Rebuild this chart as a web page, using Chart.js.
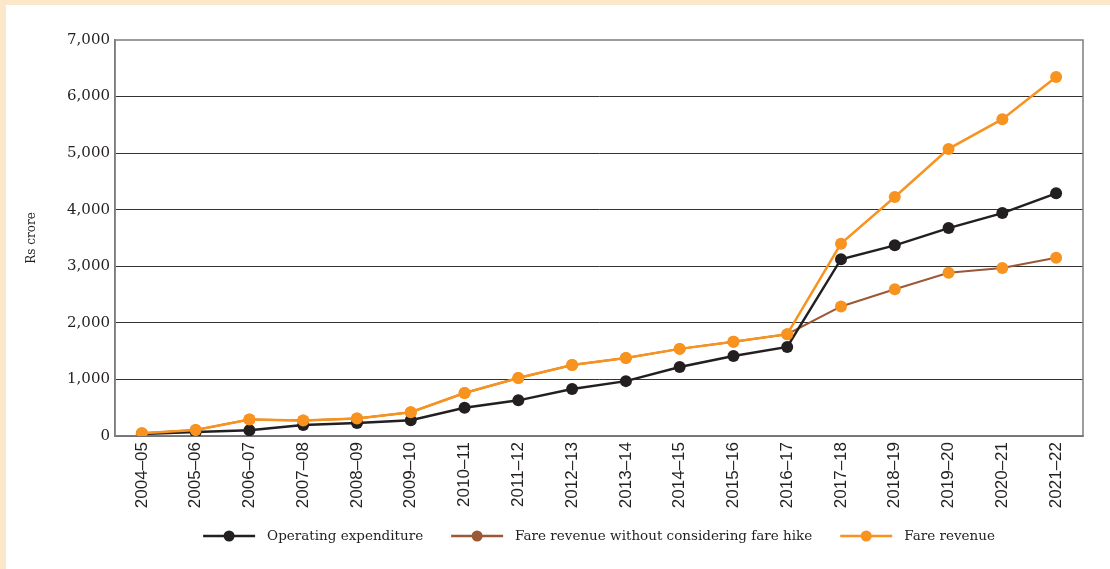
<!DOCTYPE html>
<html>
<head>
<meta charset="utf-8">
<script src="https://cdn.jsdelivr.net/npm/chart.js@4.4.0/dist/chart.umd.min.js"></script>
<style>
  html, body { margin: 0; padding: 0; background: #fbe8cb; }
  #panel { position: absolute; left: 6px; top: 5px; width: 1104px; height: 564px; background: #fff; }
</style>
</head>
<body>
<div id="panel"><canvas id="chart" width="1104" height="564"></canvas></div>
<script>
// Years on the x axis
const years = ['2004–05', '2005–06', '2006–07', '2007–08', '2008–09', '2009–10', '2010–11', '2011–12', '2012–13',
  '2013–14', '2014–15', '2015–16', '2016–17', '2017–18', '2018–19', '2019–20', '2020–21', '2021–22'];

// Rs crore
const operatingExpenditure = [35, 70, 100, 195, 230, 280, 500, 630, 830, 970, 1220, 1415, 1575, 3125, 3370, 3675, 3940, 4290];
const fareRevenueNoHike = [50, 105, 290, 275, 310, 420, 760, 1025, 1255, 1380, 1540, 1665, 1800, 2290, 2595, 2885, 2970, 3150];
const fareRevenue = [50, 105, 290, 275, 310, 420, 760, 1025, 1255, 1380, 1540, 1665, 1800, 3400, 4225, 5075, 5600, 6345];

const yTicks = [0, 1000, 2000, 3000, 4000, 5000, 6000, 7000];

const BLACK = '#231f20';
const BROWN = '#9a5836';
const ORANGE = '#f7931e';
const FRAME = '#7d7d7d';

// gray frame round the plot area, under the lines
const framePlugin = {
  id: 'frame',
  beforeDatasetsDraw(chart) {
    const { ctx, chartArea: a } = chart;
    ctx.save();
    ctx.strokeStyle = FRAME;
    ctx.lineWidth = 1.5;
    ctx.strokeRect(a.left, a.top, a.right - a.left, a.bottom - a.top);
    ctx.restore();
  }
};

// legend under the axis labels: line with a dot, then the text
const legendPlugin = {
  id: 'lineLegend',
  afterDraw(chart) {
    const { ctx, chartArea: a } = chart;
    const items = chart.data.datasets.map(ds => ({ text: ds.label, color: ds.legendColor }));
    const lineLen = 52, gap = 12, itemGap = 28;
    ctx.save();
    ctx.font = '13.5px "DejaVu Serif"';
    let total = 0;
    items.forEach((it, i) => {
      it.w = ctx.measureText(it.text).width;
      total += lineLen + gap + it.w + (i < items.length - 1 ? itemGap : 0);
    });
    let x = (a.left + a.right) / 2 - total / 2;
    const y = 531;
    items.forEach(it => {
      ctx.strokeStyle = it.color;
      ctx.lineWidth = 2.5;
      ctx.beginPath();
      ctx.moveTo(x, y);
      ctx.lineTo(x + lineLen, y);
      ctx.stroke();
      ctx.fillStyle = it.color;
      ctx.beginPath();
      ctx.arc(x + lineLen / 2, y, 5.5, 0, Math.PI * 2);
      ctx.fill();
      ctx.fillStyle = BLACK;
      ctx.textBaseline = 'middle';
      ctx.fillText(it.text, x + lineLen + gap, y);
      x += lineLen + gap + it.w + itemGap;
    });
    ctx.restore();
  }
};

new Chart(document.getElementById('chart'), {
  type: 'line',
  data: {
    labels: years,
    datasets: [
      {
        label: 'Operating expenditure',
        data: operatingExpenditure,
        borderColor: BLACK,
        backgroundColor: BLACK,
        pointBackgroundColor: BLACK,
        legendColor: BLACK,
        order: 1
      },
      {
        label: 'Fare revenue without considering fare hike',
        data: fareRevenueNoHike,
        borderColor: BROWN,
        borderWidth: 2,
        pointBorderWidth: 0,
        backgroundColor: ORANGE,
        pointBackgroundColor: ORANGE,
        legendColor: BROWN,
        order: 2
      },
      {
        label: 'Fare revenue',
        data: fareRevenue,
        borderColor: ORANGE,
        backgroundColor: ORANGE,
        pointBackgroundColor: ORANGE,
        legendColor: ORANGE,
        order: 0
      }
    ]
  },
  options: {
    responsive: false,
    animation: false,
    layout: { padding: { left: 0, top: 35, right: 27, bottom: 50 } },
    elements: {
      line: { borderWidth: 2.5, tension: 0 },
      point: { radius: 6, borderWidth: 0, hoverRadius: 6 }
    },
    plugins: {
      legend: { display: false },
      tooltip: { enabled: false }
    },
    scales: {
      x: {
        offset: true,
        grid: { display: false, drawTicks: false },
        border: { display: true, color: FRAME, width: 1.5 },
        ticks: {
          color: BLACK,
          padding: 6,
          minRotation: 90,
          maxRotation: 90,
          font: { family: '"Liberation Sans", Arial, sans-serif', size: 17 }
        },
        afterFit(scale) { scale.height = 83; }
      },
      y: {
        min: 0,
        max: 7000,
        afterBuildTicks(scale) { scale.ticks = yTicks.map(v => ({ value: v })); },
        grid: {
          drawTicks: false,
          color: c => (c.tick && c.tick.value === 7000 ? 'rgba(0,0,0,0)' : '#333'),
          lineWidth: 1
        },
        border: { display: true, color: FRAME, width: 1.5 },
        ticks: {
          color: BLACK,
          padding: 5,
          font: { family: '"DejaVu Serif", serif', size: 15 },
          callback: v => v.toLocaleString('en-US')
        },
        title: {
          display: true,
          text: 'Rs crore',
          color: BLACK,
          padding: { top: 19, bottom: 0 },
          font: { family: '"DejaVu Serif", serif', size: 12 }
        },
        afterFit(scale) { scale.width = 109; }
      }
    }
  },
  plugins: [framePlugin, legendPlugin]
});
</script>
</body>
</html>
